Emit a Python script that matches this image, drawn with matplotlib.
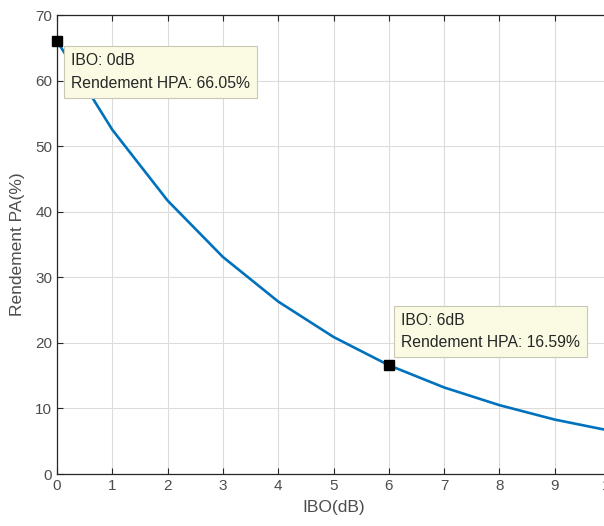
import numpy as np
import matplotlib
matplotlib.use('Agg')
import matplotlib.pyplot as plt

plt.rcParams['font.family'] = ['Liberation Sans', 'DejaVu Sans']

ibo_db = [0, 1, 2, 3, 4, 5, 6, 7, 8, 9, 10]
rendement = [66.05, 52.5, 41.7, 33.1, 26.3, 20.9, 16.59, 13.2, 10.5, 8.3, 6.6]
# index of the point, text offset in points, vertical alignment
tips = [(0, (10, -9), 'top'), (6, (9, 11), 'bottom')]

fig = plt.figure(figsize=(6.04, 5.26), dpi=100)
ax = fig.add_axes([57/604, 52/526, 553/604, 459/526])

ax.plot(ibo_db, rendement, color=(0, 0.447, 0.741), lw=1.9, zorder=3)
ax.set_xlim(0, 10)
ax.set_ylim(0, 70)
ax.set_xticks(range(0, 11))
ax.set_yticks(range(0, 71, 10))
ax.grid(True, color='#dcdcdc', lw=0.8)
ax.set_axisbelow(True)
ax.tick_params(direction='in', length=4, labelsize=11, colors='#262626',
               labelcolor='#4d4d4d', top=True, right=True)
for s in ax.spines.values():
    s.set_color('#262626')
    s.set_linewidth(0.9)
ax.set_xlabel('IBO(dB)', fontsize=12.5, color='#4d4d4d', labelpad=5)
ax.set_ylabel('Rendement PA(%)', fontsize=12.5, color='#4d4d4d', labelpad=7)

# data tips
for i, off, va in tips:
    x, y = ibo_db[i], rendement[i]
    ax.plot(x, y, 's', color='k', ms=7, zorder=5, clip_on=False)
    ax.annotate('IBO: {}dB\nRendement HPA: {:.2f}%'.format(x, y), (x, y),
                xytext=off, textcoords='offset points', va=va, ha='left',
                fontsize=11.3, color='#262626', linespacing=1.6, zorder=6,
                bbox=dict(boxstyle='square,pad=0.45', fc='#fbfbe4', ec='#c8c8b4', lw=0.8))

fig.savefig('out.png', dpi=100)
